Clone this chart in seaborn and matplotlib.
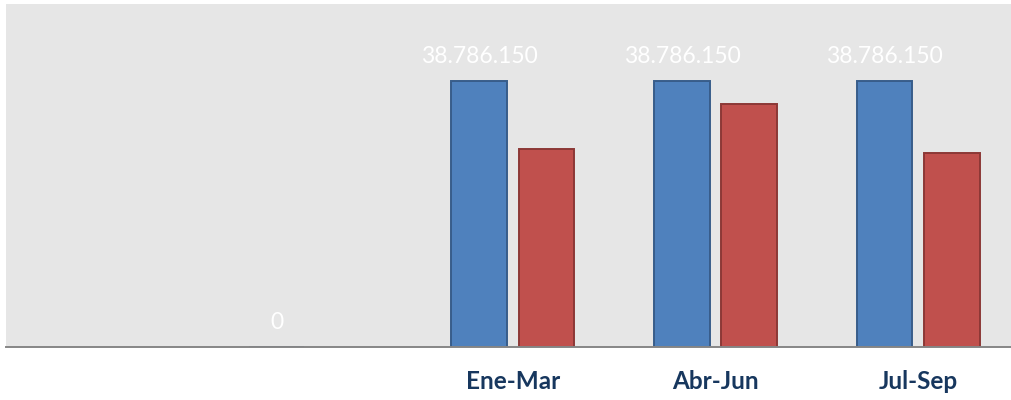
import numpy as np
import pandas as pd
import matplotlib
matplotlib.use("Agg")
import matplotlib.pyplot as plt
import seaborn as sns

# ---- data ----
categorias = ["P0", "P1", "Ene-Mar", "Abr-Jun", "Jul-Sep"]
etiquetas_x = ["", "", "Ene-Mar", "Abr-Jun", "Jul-Sep"]
serie_azul = [np.nan, 0, 38786150, 38786150, 38786150]
serie_roja = [np.nan, np.nan, 28850000, 35400000, 28270000]
series = ["Azul", "Roja"]

df = pd.DataFrame({
    "periodo": categorias * 2,
    "serie": [series[0]] * len(categorias) + [series[1]] * len(categorias),
    "valor": serie_azul + serie_roja,
})

sns.set_theme(style="white")
plt.rcParams["font.family"] = ["Lato", "DejaVu Sans"]

W, H = 1011, 400
fig = plt.figure(figsize=(W / 100, H / 100), dpi=100)
left, right, top, bottom = 6, 1019.6, 4, 346.7
ax = fig.add_axes([left / W, (H - bottom) / H, (right - left) / W, (bottom - top) / H])

sns.barplot(
    data=df, x="periodo", y="valor", hue="serie", order=categorias,
    hue_order=series, palette={"Azul": "#4F81BD", "Roja": "#C0504D"},
    width=0.663, gap=0.175, ax=ax, legend=False, errorbar=None,
    saturation=1, linewidth=1.4,
)

# edge colours per series
edge = {0: "#385D8A", 1: "#8C3836"}
for i, cont in enumerate(ax.containers):
    for p in cont.patches:
        if p is not None:
            p.set_edgecolor(edge[i])

# data labels for blue series
for p in ax.containers[0].patches:
    if p is None:
        continue
    v = p.get_height()
    txt = f"{v:,.0f}".replace(",", ".")
    ax.annotate(txt, (p.get_x() + p.get_width() / 2, v), xytext=(0, 10),
                textcoords="offset points", ha="center", va="bottom",
                color="white", fontsize=16.5)

ax.set_facecolor("#E6E6E6")
ax.set_ylim(0, 50000000)
ax.set_xlim(-0.5, len(categorias) - 0.5)
ax.set_yticks([])
ax.set_xlabel("")
ax.set_ylabel("")
ax.set_xticks(range(len(categorias)))
ax.set_xticklabels(etiquetas_x, fontsize=17.5, fontweight="bold", color="#17375E")
ax.tick_params(axis="x", length=0, pad=17)
for s in ["top", "left", "right"]:
    ax.spines[s].set_visible(False)
ax.spines["bottom"].set_color("#868686")
ax.spines["bottom"].set_linewidth(1.4)

fig.savefig("out.png", dpi=100, facecolor="white")
